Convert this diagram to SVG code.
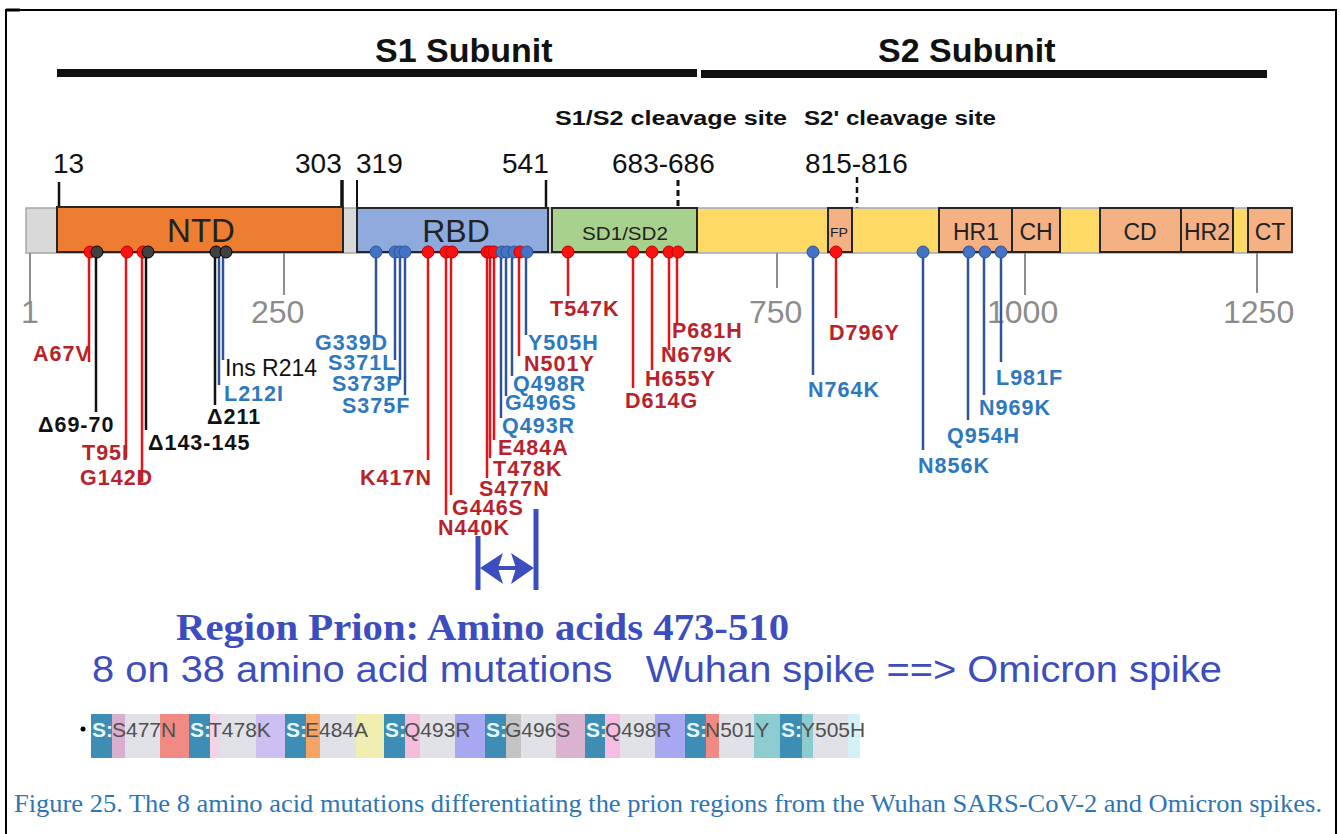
<svg xmlns="http://www.w3.org/2000/svg" width="1340" height="834" viewBox="0 0 1340 834">
<style>
  .lab{font-family:"Liberation Sans",Arial,sans-serif;font-weight:bold;font-size:21.5px;letter-spacing:1px}
  .red{fill:#b8232b}
  .blu{fill:#2e78bf}
  .blk{fill:#111}
  .lr{stroke:#e3151b;stroke-width:2.5}
  .lb{stroke:#2f5597;stroke-width:2.5}
  .lk{stroke:#111;stroke-width:2.5}
  .cr{fill:#ff1010;stroke:#c00000;stroke-width:1}
  .cb{fill:#4472c4;stroke:#2f5597;stroke-width:1}
  .ck{fill:#404040;stroke:#000;stroke-width:1}
  .dom{stroke:#262626;stroke-width:2}
  .dtxt{font-family:"Liberation Sans",Arial,sans-serif;fill:#222;text-anchor:middle}
  .num{font-family:"Liberation Sans",Arial,sans-serif;font-size:28px;fill:#111}
  .scl{font-family:"Liberation Sans",Arial,sans-serif;font-size:32px;fill:#8c8c8c}
  .tick{stroke:#8c8c8c;stroke-width:2}
  .seg{stroke:none}
  .sS{font-family:"Liberation Sans",Arial,sans-serif;font-size:21px;font-weight:bold;fill:#e4f8fc}
  .sM{font-family:"Liberation Sans",Arial,sans-serif;font-size:21px;fill:#505050}
</style>
<defs/>
<rect x="0" y="0" width="1340" height="834" fill="#fff"/>
<g id="frame" fill="none" stroke="#000" stroke-width="2">
  <polyline points="6,834 6,10 1336,10 1336,834"/>
  <line x1="6" y1="10" x2="20" y2="10" stroke-width="3"/>
</g>

<g id="subunits">
  <text x="375" y="62" font-family="Liberation Sans, Arial, sans-serif" font-weight="bold" font-size="34" fill="#111">S1 Subunit</text>
  <text x="878" y="62" font-family="Liberation Sans, Arial, sans-serif" font-weight="bold" font-size="34" fill="#111">S2 Subunit</text>
  <rect x="57" y="69" width="640" height="8" fill="#111"/>
  <rect x="701" y="70" width="566" height="8" fill="#111"/>
</g>

<g id="positions">
  <text x="555" y="125" font-family="Liberation Sans, Arial, sans-serif" font-weight="bold" font-size="20" fill="#111" textLength="232" lengthAdjust="spacingAndGlyphs">S1/S2 cleavage site</text>
  <text x="804" y="125" font-family="Liberation Sans, Arial, sans-serif" font-weight="bold" font-size="20" fill="#111" textLength="192" lengthAdjust="spacingAndGlyphs">S2' cleavage site</text>
  <text class="num" x="53" y="173">13</text>
  <text class="num" x="295" y="173">303</text>
  <text class="num" x="356" y="173">319</text>
  <text class="num" x="502" y="173">541</text>
  <text class="num" x="612" y="173">683-686</text>
  <text class="num" x="805" y="173">815-816</text>
  <line x1="59" y1="182" x2="59" y2="208" stroke="#111" stroke-width="2.5"/>
  <line x1="342" y1="180" x2="342" y2="208" stroke="#111" stroke-width="3.5"/>
  <line x1="357" y1="180" x2="357" y2="208" stroke="#111" stroke-width="2"/>
  <line x1="546" y1="180" x2="546" y2="208" stroke="#111" stroke-width="2.5"/>
  <line x1="678" y1="180" x2="678" y2="208" stroke="#111" stroke-width="3" stroke-dasharray="6,4"/>
  <line x1="857" y1="177" x2="857" y2="208" stroke="#111" stroke-width="2.5" stroke-dasharray="6,4"/>
</g>

<g id="bar">
  <rect x="26" y="208" width="1266" height="45" fill="#d9d9d9" stroke="#a6a6a6" stroke-width="1.5"/>
  <rect x="698" y="210" width="594" height="41" fill="#ffd966"/>
  <g id="NTD"><rect class="dom" x="57" y="207" width="286" height="45" fill="#ed7d31"/><text class="dtxt" x="201" y="242" font-size="33">NTD</text></g>
  <g id="RBD"><rect class="dom" x="357" y="208" width="191" height="44" fill="#8faadc"/><text class="dtxt" x="456" y="242" font-size="32">RBD</text></g>
  <g id="SD1SD2"><rect class="dom" x="552" y="208" width="145" height="44" fill="#a9d18e"/><text class="dtxt" x="625" y="240" font-size="19" textLength="86" lengthAdjust="spacingAndGlyphs">SD1/SD2</text></g>
  <g id="FP"><rect class="dom" x="828" y="208" width="24" height="44" fill="#f4b183"/><text class="dtxt" x="839" y="237" font-size="12" textLength="18" lengthAdjust="spacingAndGlyphs">FP</text></g>
  <g id="HR1"><rect class="dom" x="939" y="208" width="73" height="44" fill="#f4b183"/><text class="dtxt" x="976" y="240" font-size="23">HR1</text></g>
  <g id="CH"><rect class="dom" x="1012" y="208" width="48" height="44" fill="#f4b183"/><text class="dtxt" x="1036" y="240" font-size="23">CH</text></g>
  <g id="CD"><rect class="dom" x="1100" y="208" width="81" height="44" fill="#f4b183"/><text class="dtxt" x="1140" y="240" font-size="23">CD</text></g>
  <g id="HR2"><rect class="dom" x="1181" y="208" width="52" height="44" fill="#f4b183"/><text class="dtxt" x="1207" y="240" font-size="23">HR2</text></g>
  <g id="CT"><rect class="dom" x="1248" y="208" width="44" height="44" fill="#f4b183"/><text class="dtxt" x="1270" y="240" font-size="23">CT</text></g>
</g>

<g id="scale">
  <line class="tick" x1="30" y1="253" x2="30" y2="302"/>
  <line class="tick" x1="284" y1="253" x2="284" y2="295"/>
  <line class="tick" x1="777" y1="253" x2="777" y2="288"/>
  <line class="tick" x1="1025" y1="253" x2="1025" y2="295"/>
  <line class="tick" x1="1257" y1="253" x2="1257" y2="293"/>
  <text class="scl" x="21" y="323">1</text>
  <text class="scl" x="251" y="323">250</text>
  <text class="scl" x="749" y="323">750</text>
  <text class="scl" x="987" y="323">1000</text>
  <text class="scl" x="1223" y="323">1250</text>
</g>

<g id="connectors">
  <line class="lr" x1="89" y1="252" x2="89" y2="362"/>
  <line class="lk" x1="96" y1="252" x2="96" y2="412"/>
  <line class="lr" x1="126" y1="252" x2="126" y2="458"/>
  <line class="lr" x1="142" y1="252" x2="142" y2="482" stroke-width="2"/>
  <line class="lk" x1="146" y1="252" x2="146" y2="430" stroke-width="3.5"/>
  <line class="lk" x1="215" y1="252" x2="215" y2="405"/>
  <line class="lb" x1="219" y1="252" x2="219" y2="385" stroke-width="3"/>
  <line class="lb" x1="223" y1="252" x2="223" y2="360" stroke-width="3"/>
  <line class="lb" x1="376" y1="252" x2="376" y2="335"/>
  <line class="lb" x1="395" y1="252" x2="395" y2="360"/>
  <line class="lb" x1="400" y1="252" x2="400" y2="380"/>
  <line class="lb" x1="405" y1="252" x2="405" y2="395"/>
  <line class="lr" x1="428" y1="252" x2="428" y2="460"/>
  <line class="lr" x1="446" y1="252" x2="446" y2="515"/>
  <line class="lr" x1="451" y1="252" x2="451" y2="495"/>
  <line class="lr" x1="487" y1="252" x2="487" y2="478" stroke-width="3"/>
  <line class="lr" x1="490" y1="252" x2="490" y2="458"/>
  <line class="lr" x1="494" y1="252" x2="494" y2="440"/>
  <line class="lb" x1="501" y1="252" x2="501" y2="418" stroke-width="3"/>
  <line class="lb" x1="506" y1="252" x2="506" y2="396" stroke-width="3"/>
  <line class="lb" x1="512" y1="252" x2="512" y2="376"/>
  <line class="lr" x1="519" y1="252" x2="519" y2="356"/>
  <line class="lb" x1="526" y1="252" x2="526" y2="335"/>
  <line class="lr" x1="568" y1="252" x2="568" y2="296"/>
  <line class="lr" x1="633" y1="252" x2="633" y2="388"/>
  <line class="lr" x1="652" y1="252" x2="652" y2="370"/>
  <line class="lr" x1="669" y1="252" x2="669" y2="350"/>
  <line class="lr" x1="677" y1="252" x2="677" y2="325"/>
  <line class="lb" x1="813" y1="252" x2="813" y2="375"/>
  <line class="lr" x1="836" y1="252" x2="836" y2="318"/>
  <line class="lb" x1="923" y1="252" x2="923" y2="450"/>
  <line class="lb" x1="968" y1="252" x2="968" y2="420"/>
  <line class="lb" x1="984" y1="252" x2="984" y2="395"/>
  <line class="lb" x1="1001" y1="252" x2="1001" y2="362"/>
</g>

<g id="mutations">
  <g id="m-A67V"><circle class="cr" cx="90" cy="252" r="6"/><text class="lab red" x="33" y="361">A67V</text></g>
  <g id="m-d69-70"><circle class="ck" cx="97" cy="252" r="6"/><text class="lab blk" x="38" y="432">Δ69-70</text></g>
  <g id="m-T95I"><circle class="cr" cx="127" cy="252" r="6"/><text class="lab red" x="82" y="460">T95I</text></g>
  <g id="m-G142D"><circle class="cr" cx="143" cy="252" r="6"/><text class="lab red" x="80" y="485">G142D</text></g>
  <g id="m-d143-145"><circle class="ck" cx="148" cy="252" r="6"/><text class="lab blk" x="148" y="450">Δ143-145</text></g>
  <g id="m-d211"><circle class="ck" cx="216" cy="252" r="6"/><text class="lab blk" x="207" y="424">Δ211</text></g>
  <g id="m-L212I"><text class="lab blu" x="224" y="401">L212I</text></g>
  <g id="m-insR214"><circle class="ck" cx="226" cy="252" r="6"/><text x="225" y="376" font-family="Liberation Sans, Arial, sans-serif" font-size="23" fill="#111">Ins R214</text></g>
  <g id="m-G339D"><circle class="cb" cx="376" cy="252" r="6"/><text class="lab blu" x="315" y="350">G339D</text></g>
  <g id="m-S371L"><circle class="cb" cx="395" cy="252" r="6"/><text class="lab blu" x="328" y="370">S371L</text></g>
  <g id="m-S373P"><circle class="cb" cx="400" cy="252" r="6"/><text class="lab blu" x="332" y="391">S373P</text></g>
  <g id="m-S375F"><circle class="cb" cx="405" cy="252" r="6"/><text class="lab blu" x="342" y="413">S375F</text></g>
  <g id="m-K417N"><circle class="cr" cx="428" cy="252" r="6"/><text class="lab red" x="360" y="485">K417N</text></g>
  <g id="m-N440K"><circle class="cr" cx="446" cy="252" r="6"/><text class="lab red" x="438" y="535">N440K</text></g>
  <g id="m-G446S"><circle class="cr" cx="452" cy="252" r="6"/><text class="lab red" x="452" y="515">G446S</text></g>
  <g id="m-S477N"><circle class="cr" cx="487" cy="252" r="6"/><text class="lab red" x="479" y="496">S477N</text></g>
  <g id="m-T478K"><circle class="cr" cx="490" cy="252" r="6"/><text class="lab red" x="493" y="476">T478K</text></g>
  <g id="m-E484A"><circle class="cr" cx="494" cy="252" r="6"/><text class="lab red" x="498" y="455">E484A</text></g>
  <g id="m-Q493R"><circle class="cb" cx="502" cy="252" r="6"/><text class="lab blu" x="502" y="433">Q493R</text></g>
  <g id="m-G496S"><circle class="cb" cx="507" cy="252" r="6"/><text class="lab blu" x="505" y="410">G496S</text></g>
  <g id="m-Q498R"><circle class="cb" cx="514" cy="252" r="6"/><text class="lab blu" x="513" y="391">Q498R</text></g>
  <g id="m-N501Y"><circle class="cr" cx="520" cy="252" r="6"/><text class="lab red" x="524" y="371">N501Y</text></g>
  <g id="m-Y505H"><circle class="cb" cx="527" cy="252" r="6"/><text class="lab blu" x="528" y="350">Y505H</text></g>
  <g id="m-T547K"><circle class="cr" cx="568" cy="252" r="6"/><text class="lab red" x="550" y="316">T547K</text></g>
  <g id="m-D614G"><circle class="cr" cx="633" cy="252" r="6"/><text class="lab red" x="625" y="408">D614G</text></g>
  <g id="m-H655Y"><circle class="cr" cx="652" cy="252" r="6"/><text class="lab red" x="645" y="386">H655Y</text></g>
  <g id="m-N679K"><circle class="cr" cx="669" cy="252" r="6"/><text class="lab red" x="661" y="362">N679K</text></g>
  <g id="m-P681H"><circle class="cr" cx="678" cy="252" r="6"/><text class="lab red" x="672" y="338">P681H</text></g>
  <g id="m-N764K"><circle class="cb" cx="813" cy="252" r="6"/><text class="lab blu" x="808" y="397">N764K</text></g>
  <g id="m-D796Y"><circle class="cr" cx="836" cy="252" r="6"/><text class="lab red" x="829" y="340">D796Y</text></g>
  <g id="m-N856K"><circle class="cb" cx="923" cy="252" r="6"/><text class="lab blu" x="918" y="473">N856K</text></g>
  <g id="m-Q954H"><circle class="cb" cx="969" cy="252" r="6"/><text class="lab blu" x="947" y="443">Q954H</text></g>
  <g id="m-N969K"><circle class="cb" cx="985" cy="252" r="6"/><text class="lab blu" x="979" y="415">N969K</text></g>
  <g id="m-L981F"><circle class="cb" cx="1001" cy="252" r="6"/><text class="lab blu" x="996" y="385">L981F</text></g>
</g>

<g id="prion-region" fill="#3c4dc0" stroke="none">
  <line x1="478" y1="536" x2="478" y2="590" stroke="#3c4dc0" stroke-width="5"/>
  <line x1="536" y1="509" x2="536" y2="590" stroke="#3c4dc0" stroke-width="5"/>
  <line x1="495" y1="568" x2="520" y2="568" stroke="#3c4dc0" stroke-width="4"/>
  <polygon points="480,568 503,553 498,568 503,584"/>
  <polygon points="534,568 511,553 516,568 511,584"/>
  <text x="176" y="640" font-family="Liberation Serif, Times New Roman, serif" font-weight="bold" font-size="38" textLength="613" lengthAdjust="spacingAndGlyphs">Region Prion: Amino acids 473-510</text>
  <text x="92" y="682" font-family="Liberation Sans, Arial, sans-serif" font-size="36" textLength="1130" lengthAdjust="spacingAndGlyphs" xml:space="preserve">8 on 38 amino acid mutations   Wuhan spike ==&gt; Omicron spike</text>
</g>

<g id="strip">
  <circle cx="83" cy="729" r="2.5" fill="#000"/>
  <rect class="seg" x="91" y="714" width="21" height="44" fill="#3d8db5"/>
  <rect class="seg" x="112" y="714" width="13" height="44" fill="#d9afcf"/>
  <rect class="seg" x="125" y="714" width="35" height="44" fill="#e1e1e8"/>
  <rect class="seg" x="160" y="714" width="29" height="44" fill="#f08a82"/>
  <rect class="seg" x="189" y="714" width="21" height="44" fill="#3d8db5"/>
  <rect class="seg" x="210" y="714" width="10" height="44" fill="#f2d4e2"/>
  <rect class="seg" x="220" y="714" width="36" height="44" fill="#e1e1e8"/>
  <rect class="seg" x="256" y="714" width="29" height="44" fill="#cdbff2"/>
  <rect class="seg" x="285" y="714" width="21" height="44" fill="#3d8db5"/>
  <rect class="seg" x="306" y="714" width="14" height="44" fill="#f6a466"/>
  <rect class="seg" x="320" y="714" width="36" height="44" fill="#e1e1e8"/>
  <rect class="seg" x="356" y="714" width="28" height="44" fill="#f1eeb2"/>
  <rect class="seg" x="384" y="714" width="21" height="44" fill="#3d8db5"/>
  <rect class="seg" x="405" y="714" width="15" height="44" fill="#f6bcdc"/>
  <rect class="seg" x="420" y="714" width="35" height="44" fill="#e1e1e8"/>
  <rect class="seg" x="455" y="714" width="30" height="44" fill="#a7a7f2"/>
  <rect class="seg" x="485" y="714" width="21" height="44" fill="#3d8db5"/>
  <rect class="seg" x="506" y="714" width="15" height="44" fill="#c4c4c4"/>
  <rect class="seg" x="521" y="714" width="35" height="44" fill="#e1e1e8"/>
  <rect class="seg" x="556" y="714" width="29" height="44" fill="#d9b3d0"/>
  <rect class="seg" x="585" y="714" width="20" height="44" fill="#3d8db5"/>
  <rect class="seg" x="605" y="714" width="15" height="44" fill="#f6bce2"/>
  <rect class="seg" x="620" y="714" width="35" height="44" fill="#e1e1e8"/>
  <rect class="seg" x="655" y="714" width="30" height="44" fill="#a7a7f2"/>
  <rect class="seg" x="685" y="714" width="21" height="44" fill="#3d8db5"/>
  <rect class="seg" x="706" y="714" width="13" height="44" fill="#f08a82"/>
  <rect class="seg" x="719" y="714" width="35" height="44" fill="#e1e1e8"/>
  <rect class="seg" x="754" y="714" width="26" height="44" fill="#8ccbd0"/>
  <rect class="seg" x="780" y="714" width="22" height="44" fill="#3d8db5"/>
  <rect class="seg" x="802" y="714" width="11" height="44" fill="#8ccbd0"/>
  <rect class="seg" x="813" y="714" width="35" height="44" fill="#e1e1e8"/>
  <rect class="seg" x="848" y="714" width="12" height="44" fill="#d4f1f8"/>
  <text class="sS" x="92" y="737">S:</text><text class="sM" x="112" y="737">S477N</text>
  <text class="sS" x="190" y="737">S:</text><text class="sM" x="209" y="737">T478K</text>
  <text class="sS" x="286" y="737">S:</text><text class="sM" x="305" y="737">E484A</text>
  <text class="sS" x="385" y="737">S:</text><text class="sM" x="404" y="737">Q493R</text>
  <text class="sS" x="486" y="737">S:</text><text class="sM" x="505" y="737">G496S</text>
  <text class="sS" x="586" y="737">S:</text><text class="sM" x="605" y="737">Q498R</text>
  <text class="sS" x="686" y="737">S:</text><text class="sM" x="705" y="737">N501Y</text>
  <text class="sS" x="781" y="737">S:</text><text class="sM" x="801" y="737">Y505H</text>
</g>

<g id="caption">
  <text x="14" y="812" font-family="Liberation Serif, Times New Roman, serif" font-size="25" fill="#2e75b6" textLength="1308" lengthAdjust="spacingAndGlyphs">Figure 25. The 8 amino acid mutations differentiating the prion regions from the Wuhan SARS-CoV-2 and Omicron spikes.</text>
</g>
</svg>
